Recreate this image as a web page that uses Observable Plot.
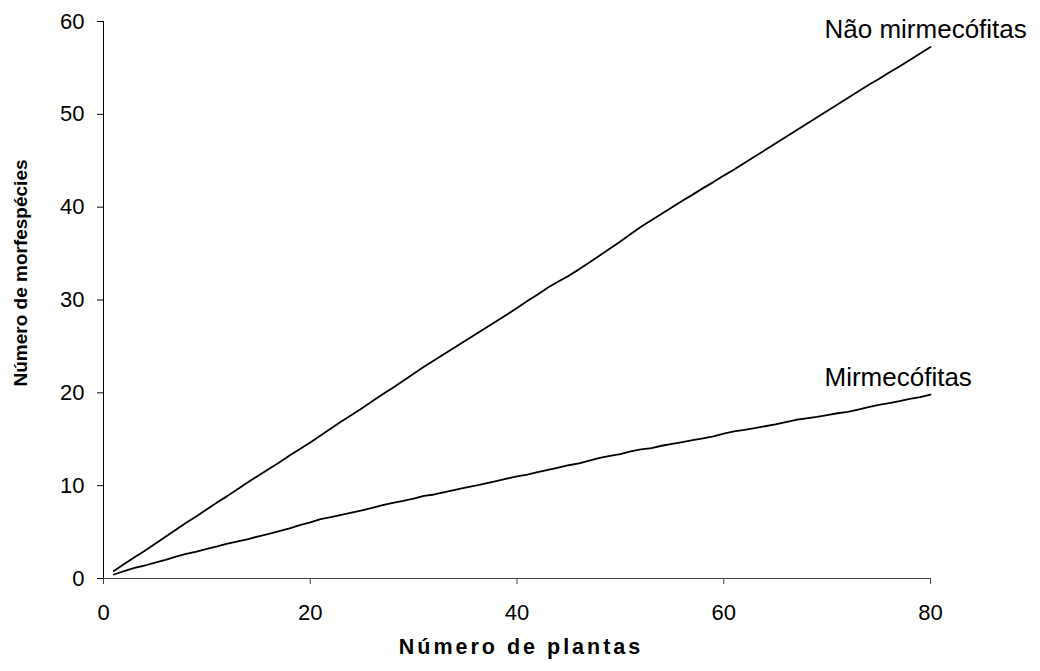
<!DOCTYPE html>
<html><head><meta charset="utf-8">
<script src="https://cdn.jsdelivr.net/npm/d3@7"></script>
<script src="https://cdn.jsdelivr.net/npm/@observablehq/plot@0.6"></script>
<style>body{margin:0;background:#fff} svg{display:block}</style>
</head><body><div id="chart"></div>
<script>
const plantas = [1,2,3,4,5,6,7,8,9,10,11,12,13,14,15,16,17,18,19,20,21,22,23,24,25,26,27,28,29,30,31,32,33,34,35,36,37,38,39,40,41,42,43,44,45,46,47,48,49,50,51,52,53,54,55,56,57,58,59,60,61,62,63,64,65,66,67,68,69,70,71,72,73,74,75,76,77,78,79,80];
const naoMirmecofitas = [0.8,1.55,2.3,3.0,3.75,4.5,5.25,6.0,6.7,7.45,8.2,8.9,9.65,10.4,11.1,11.8,12.5,13.25,13.95,14.65,15.4,16.15,16.9,17.6,18.35,19.1,19.85,20.55,21.3,22.05,22.8,23.5,24.2,24.9,25.6,26.3,27.0,27.7,28.4,29.15,29.9,30.6,31.35,32.0,32.6,33.3,34.05,34.8,35.55,36.3,37.1,37.9,38.6,39.3,40.0,40.7,41.35,42.05,42.7,43.4,44.05,44.75,45.45,46.15,46.85,47.55,48.25,48.95,49.65,50.35,51.05,51.75,52.45,53.15,53.8,54.5,55.15,55.85,56.55,57.25];
const mirmecofitas = [0.43,0.8,1.15,1.4,1.7,2.0,2.35,2.65,2.9,3.2,3.45,3.75,4.0,4.25,4.55,4.8,5.1,5.4,5.75,6.05,6.4,6.6,6.85,7.1,7.35,7.6,7.9,8.15,8.35,8.6,8.9,9.05,9.3,9.55,9.8,10.0,10.25,10.5,10.75,11.0,11.2,11.45,11.7,11.95,12.2,12.4,12.7,13.0,13.2,13.4,13.7,13.9,14.05,14.3,14.5,14.7,14.9,15.1,15.3,15.6,15.85,16.0,16.2,16.4,16.6,16.85,17.1,17.25,17.4,17.6,17.8,17.95,18.2,18.45,18.7,18.9,19.1,19.35,19.55,19.8];
const seriesNames = ["Não mirmecófitas", "Mirmecófitas"];
const xTicks = [0, 20, 40, 60, 80];
const yTicks = [0, 10, 20, 30, 40, 50, 60];
const xTitle = "Número de plantas";
const yTitle = "Número de morfespécies";

const rows = [];
plantas.forEach((p, i) => {
  rows.push({plantas: p, valor: naoMirmecofitas[i], serie: seriesNames[0]});
  rows.push({plantas: p, valor: mirmecofitas[i], serie: seriesNames[1]});
});
const ends = rows.filter(d => d.plantas === plantas[plantas.length - 1]);

const chart = Plot.plot({
  width: 1040,
  height: 671,
  marginLeft: 103,
  marginRight: 110,
  marginTop: 21,
  marginBottom: 93,
  style: {fontFamily: "'Liberation Sans', Arial, sans-serif", color: "black", background: "white"},
  x: {domain: [0, 80]},
  y: {domain: [0, 60]},
  marks: [
    Plot.ruleY([0], {stroke: "#444", strokeWidth: 1}),
    Plot.ruleX([0], {stroke: "black", strokeWidth: 1}),
    Plot.axisX({ticks: xTicks, tickSize: 6, tickPadding: 20, fontSize: 22, label: null, stroke: "#444"}),
    Plot.axisY({ticks: yTicks, tickSize: 6, tickPadding: 13, fontSize: 22, label: null}),
    Plot.line(rows, {x: "plantas", y: "valor", z: "serie", stroke: "black", strokeWidth: 1.8}),
    Plot.text(ends, {x: "plantas", y: "valor", text: "serie", textAnchor: "start", dx: -106, dy: -17, fontSize: 26, fill: "black"}),
    Plot.text([xTitle], {frameAnchor: "bottom", dx: 4, dy: 75, fontWeight: "bold", fontSize: 21.5, fill: "black"}),
    Plot.text([yTitle], {frameAnchor: "left", rotate: -90, textAnchor: "middle", dx: -83, dy: -27, fontWeight: "bold", fontSize: 19, fill: "black"})
  ]
});
d3.select(chart).selectAll("text").filter(function() { return this.textContent === xTitle; }).attr("letter-spacing", "3px");
document.getElementById("chart").appendChild(chart);
</script>
</body></html>
